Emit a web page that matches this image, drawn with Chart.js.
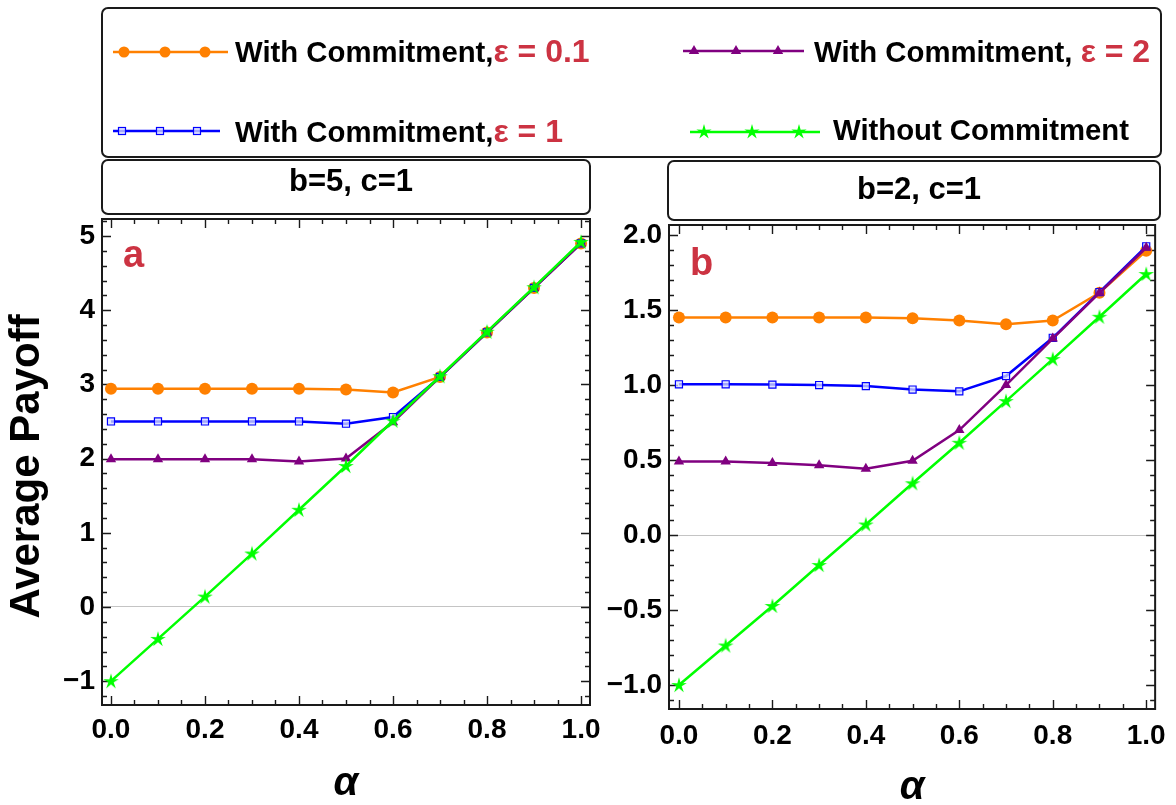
<!DOCTYPE html>
<html>
<head>
<meta charset="utf-8">
<script src="https://cdn.jsdelivr.net/npm/chart.js@4.4.0/dist/chart.umd.min.js"></script>
<style>
  html, body { margin: 0; padding: 0; background: #fff; }
  #page { position: relative; width: 1176px; height: 805px; overflow: hidden;
          font-family: 'Liberation Sans', Arial, sans-serif; font-weight: bold; color: #000; }
  canvas { position: absolute; left: 0; top: 0; }
  .box { position: absolute; box-sizing: border-box; border: 2px solid #1a1a1a; border-radius: 7px; }
  .txt { position: absolute; white-space: nowrap; line-height: 1; }
  .eps { color: #cc3342; font-size: 32px; }
</style>
</head>
<body>
<div id="page">
  <canvas id="panelA" width="1176" height="805"></canvas>
  <canvas id="panelB" width="1176" height="805"></canvas>
  <canvas id="legendArt" width="1176" height="170"></canvas>

  <div class="box" style="left:101px; top:7px; width:1061px; height:151px;"></div>
  <div class="txt" style="left:235px; top:35px; font-size:29.3px;">With Commitment,<span class="eps">ε = 0.1</span></div>
  <div class="txt" style="left:814px; top:35px; font-size:29.3px;">With Commitment, <span class="eps">ε = 2</span></div>
  <div class="txt" style="left:235px; top:115px; font-size:29.3px;">With Commitment,<span class="eps">ε = 1</span></div>
  <div class="txt" style="left:833px; top:115px; font-size:29.3px;">Without Commitment</div>

  <div class="box" style="left:101px; top:159px; width:490px; height:56px;"></div>
  <div class="txt" style="left:251px; width:200px; text-align:center; top:165px; font-size:31px;">b=5, c=1</div>
  <div class="box" style="left:667px; top:160px; width:494px; height:61px;"></div>
  <div class="txt" style="left:819px; width:200px; text-align:center; top:173px; font-size:31px;">b=2, c=1</div>
</div>

<script>
// ---- data -------------------------------------------------------------
const alpha = [0, 0.1, 0.2, 0.3, 0.4, 0.5, 0.6, 0.7, 0.8, 0.9, 1.0];

// panel a: b=5, c=1
const eps01A    = [2.94, 2.94, 2.94, 2.94, 2.94, 2.93, 2.89, 3.10, 3.70, 4.30, 4.90];
const eps1A     = [2.50, 2.50, 2.50, 2.50, 2.50, 2.47, 2.56, 3.10, 3.70, 4.30, 4.90];
const eps2A     = [1.99, 1.99, 1.99, 1.99, 1.96, 2.00, 2.49, 3.10, 3.70, 4.30, 4.90];
const noCommitA = [-1.00, -0.43, 0.14, 0.72, 1.31, 1.90, 2.51, 3.11, 3.71, 4.31, 4.92];

// panel b: b=2, c=1
const eps01B    = [1.45, 1.45, 1.45, 1.45, 1.45, 1.445, 1.43, 1.405, 1.43, 1.615, 1.895];
const eps1B     = [1.005, 1.005, 1.003, 1.0, 0.993, 0.97, 0.958, 1.06, 1.315, 1.62, 1.925];
const eps2B     = [0.49, 0.49, 0.48, 0.465, 0.442, 0.495, 0.70, 1.0, 1.31, 1.615, 1.915];
const noCommitB = [-1.0, -0.737, -0.473, -0.20, 0.07, 0.345, 0.615, 0.893, 1.173, 1.455, 1.74];

// ---- tick labels ------------------------------------------------------
const xTickValues  = [0, 0.2, 0.4, 0.6, 0.8, 1.0];
const xTickLabels  = ['0.0', '0.2', '0.4', '0.6', '0.8', '1.0'];
const yTickValuesA = [-1, 0, 1, 2, 3, 4, 5];
const yTickLabelsA = ['\u22121', '0', '1', '2', '3', '4', '5'];
const yTickValuesB = [-1, -0.5, 0, 0.5, 1, 1.5, 2];
const yTickLabelsB = ['\u22121.0', '\u22120.5', '0.0', '0.5', '1.0', '1.5', '2.0'];

// ---- styling ----------------------------------------------------------
const FONT = "'Liberation Sans', Arial, sans-serif";
const COLORS = { orange: '#ff8000', blue: '#0000ff', purple: '#800080', green: '#00ff00', tag: '#cc3342' };

function steps(from, to, step) {
  const out = [];
  for (let i = 0; from + i * step <= to + 1e-9; i++) out.push(+(from + i * step).toFixed(4));
  return out;
}

function starPath(ctx, cx, cy, outer, inner) {
  ctx.beginPath();
  for (let i = 0; i < 10; i++) {
    const r = i % 2 === 0 ? outer : inner;
    const a = -Math.PI / 2 + i * Math.PI / 5;
    const px = cx + r * Math.cos(a), py = cy + r * Math.sin(a);
    if (i === 0) ctx.moveTo(px, py); else ctx.lineTo(px, py);
  }
  ctx.closePath();
}

// green star marker used as a point style image
const starImg = document.createElement('canvas');
starImg.width = 18; starImg.height = 18;
(function () {
  const c = starImg.getContext('2d');
  starPath(c, 9, 9.5, 8.2, 2.8);
  c.fillStyle = COLORS.green;
  c.fill();
})();

function series(values, color, marker) {
  const ds = {
    data: alpha.map((a, i) => ({ x: a, y: values[i] })),
    borderColor: color,
    borderWidth: 2.5,
    tension: 0,
    fill: false,
    pointBorderColor: color,
    pointBackgroundColor: color,
    pointBorderWidth: 0,
    pointRadius: 6,
    pointHoverRadius: 6
  };
  if (marker === 'circle') { ds.pointStyle = 'circle'; ds.order = 4; }
  if (marker === 'square') {
    ds.pointStyle = 'rect'; ds.pointRadius = 5; ds.pointBorderWidth = 1.2;
    ds.pointBackgroundColor = 'rgba(215,220,255,0.75)'; ds.order = 3;
  }
  if (marker === 'triangle') { ds.pointStyle = 'triangle'; ds.pointRadius = 6; ds.order = 2; }
  if (marker === 'star') { ds.pointStyle = starImg; ds.order = 1; }
  return ds;
}

// frame with inward major/minor tick marks on all four sides
const framePlugin = {
  id: 'panelFrame',
  beforeDatasetsDraw(chart, args, opts) {
    const { ctx, chartArea: a, scales: { x, y } } = chart;
    ctx.save();
    ctx.strokeStyle = '#1a1a1a';
    ctx.lineWidth = 1.4;
    ctx.beginPath();
    const xt = (vals, len) => vals.forEach(v => {
      const px = Math.round(x.getPixelForValue(v)) + 0.5;
      ctx.moveTo(px, a.bottom); ctx.lineTo(px, a.bottom - len);
      ctx.moveTo(px, a.top); ctx.lineTo(px, a.top + len);
    });
    const yt = (vals, len) => vals.forEach(v => {
      const py = Math.round(y.getPixelForValue(v)) + 0.5;
      ctx.moveTo(a.left, py); ctx.lineTo(a.left + len, py);
      ctx.moveTo(a.right, py); ctx.lineTo(a.right - len, py);
    });
    xt(opts.xMajor, 9); xt(opts.xMinor, 5);
    yt(opts.yMajor, 9); yt(opts.yMinor, 5);
    ctx.stroke();
    ctx.lineWidth = 2;
    ctx.strokeRect(a.left, a.top, a.right - a.left, a.bottom - a.top);
    ctx.restore();
  }
};

// panel letter in the upper-left corner and the rotated side title
const tagPlugin = {
  id: 'panelTag',
  afterDraw(chart, args, opts) {
    const { ctx, chartArea: a } = chart;
    ctx.save();
    ctx.font = 'bold 38px ' + FONT;
    ctx.fillStyle = COLORS.tag;
    ctx.textBaseline = 'alphabetic';
    ctx.fillText(opts.text, a.left + opts.dx, a.top + opts.dy);
    if (opts.sideTitle) {
      ctx.font = 'bold 42px ' + FONT;
      ctx.fillStyle = '#000';
      ctx.textAlign = 'center';
      ctx.textBaseline = 'middle';
      ctx.translate(opts.sideX, (a.top + a.bottom) / 2 + opts.sideShift);
      ctx.rotate(-Math.PI / 2);
      ctx.fillText(opts.sideTitle, 0, 0);
    }
    ctx.restore();
  }
};

function buildPanel(id, p) {
  const tickFont = { family: FONT, size: 28, weight: 'bold' };
  return new Chart(document.getElementById(id), {
    type: 'line',
    data: {
      datasets: [
        series(p.eps01, COLORS.orange, 'circle'),
        series(p.eps1, COLORS.blue, 'square'),
        series(p.eps2, COLORS.purple, 'triangle'),
        series(p.noCommit, COLORS.green, 'star')
      ]
    },
    options: {
      responsive: false,
      animation: false,
      events: [],
      layout: { padding: p.padding, autoPadding: false },
      plugins: {
        legend: { display: false },
        tooltip: { enabled: false },
        panelFrame: { xMajor: xTickValues, xMinor: steps(0, 1, 0.05), yMajor: p.yTicks, yMinor: p.yMinor },
        panelTag: p.tag
      },
      scales: {
        x: {
          type: 'linear', min: p.xMin, max: p.xMax,
          afterFit: s => { s.height = p.xAxisHeight; },
          afterBuildTicks: s => { s.ticks = xTickValues.map(v => ({ value: v })); },
          ticks: { autoSkip: false, maxRotation: 0, minRotation: 0, padding: p.xPad, color: '#000',
                   font: tickFont, callback: (v, i) => xTickLabels[i] },
          grid: { display: false, drawTicks: false },
          border: { display: false },
          title: { display: true, text: '\u03b1', color: '#000',
                   font: { family: FONT, size: 40, weight: 'bold', style: 'italic', lineHeight: 1 },
                   padding: { top: 0, bottom: p.alphaPad } }
        },
        y: {
          type: 'linear', min: p.yMin, max: p.yMax,
          afterFit: s => { s.width = p.yAxisWidth; },
          afterBuildTicks: s => { s.ticks = p.yTicks.map(v => ({ value: v })); },
          ticks: { autoSkip: false, padding: 7, color: '#000', font: tickFont,
                   callback: (v, i) => p.yLabels[i] },
          grid: { drawTicks: false, lineWidth: 1,
                  color: c => (c.tick && c.tick.value === 0 ? '#c4c4c4' : 'rgba(0,0,0,0)') },
          border: { display: false },
          title: { display: false }
        }
      }
    },
    plugins: [framePlugin, tagPlugin]
  });
}

buildPanel('panelA', {
  eps01: eps01A, eps1: eps1A, eps2: eps2A, noCommit: noCommitA,
  padding: { left: 0, top: 219, right: 586, bottom: 0 },
  yAxisWidth: 102, xAxisHeight: 100, xPad: 8, alphaPad: 1,
  xMin: -0.0191, xMax: 1.0191, yMin: -1.321, yMax: 5.229,
  yTicks: yTickValuesA, yLabels: yTickLabelsA, yMinor: steps(-1.2, 5.2, 0.2),
  tag: { text: 'a', dx: 21, dy: 48, sideTitle: 'Average Payoff', sideX: 27, sideShift: 4.5 }
});

buildPanel('panelB', {
  eps01: eps01B, eps1: eps1B, eps2: eps2B, noCommit: noCommitB,
  padding: { left: 569, top: 225, right: 18, bottom: 0 },
  yAxisWidth: 100, xAxisHeight: 96, xPad: 10, alphaPad: -3,
  xMin: -0.0213, xMax: 1.0191, yMin: -1.16, yMax: 2.067,
  yTicks: yTickValuesB, yLabels: yTickLabelsB, yMinor: steps(-1.1, 2.0, 0.1),
  tag: { text: 'b', dx: 21, dy: 50 }
});

// ---- legend samples (line with three markers) --------------------------
(function drawLegendArt() {
  const ctx = document.getElementById('legendArt').getContext('2d');
  const samples = [
    { color: COLORS.orange, marker: 'circle',   x0: 113, x1: 228, y: 52,  marks: [124, 165, 205] },
    { color: COLORS.blue,   marker: 'square',   x0: 113, x1: 220, y: 131, marks: [122, 160, 197] },
    { color: COLORS.purple, marker: 'triangle', x0: 683, x1: 804, y: 51,  marks: [694, 736, 778] },
    { color: COLORS.green,  marker: 'star',     x0: 690, x1: 820, y: 132, marks: [704, 752, 799] }
  ];
  samples.forEach(s => {
    ctx.strokeStyle = s.color; ctx.lineWidth = 2.5;
    ctx.beginPath(); ctx.moveTo(s.x0, s.y); ctx.lineTo(s.x1, s.y); ctx.stroke();
    s.marks.forEach(mx => {
      ctx.fillStyle = s.color;
      if (s.marker === 'circle') {
        ctx.beginPath(); ctx.arc(mx, s.y, 5.5, 0, Math.PI * 2); ctx.fill();
      } else if (s.marker === 'square') {
        ctx.fillStyle = 'rgba(215,220,255,0.75)';
        ctx.fillRect(mx - 3.5, s.y - 3.5, 7, 7);
        ctx.lineWidth = 1.2; ctx.strokeRect(mx - 3.5, s.y - 3.5, 7, 7);
      } else if (s.marker === 'triangle') {
        ctx.beginPath(); ctx.moveTo(mx, s.y - 6); ctx.lineTo(mx + 5.2, s.y + 3); ctx.lineTo(mx - 5.2, s.y + 3);
        ctx.closePath(); ctx.fill();
      } else {
        starPath(ctx, mx, s.y, 8, 2.8); ctx.fill();
      }
    });
  });
})();
</script>
</body>
</html>
